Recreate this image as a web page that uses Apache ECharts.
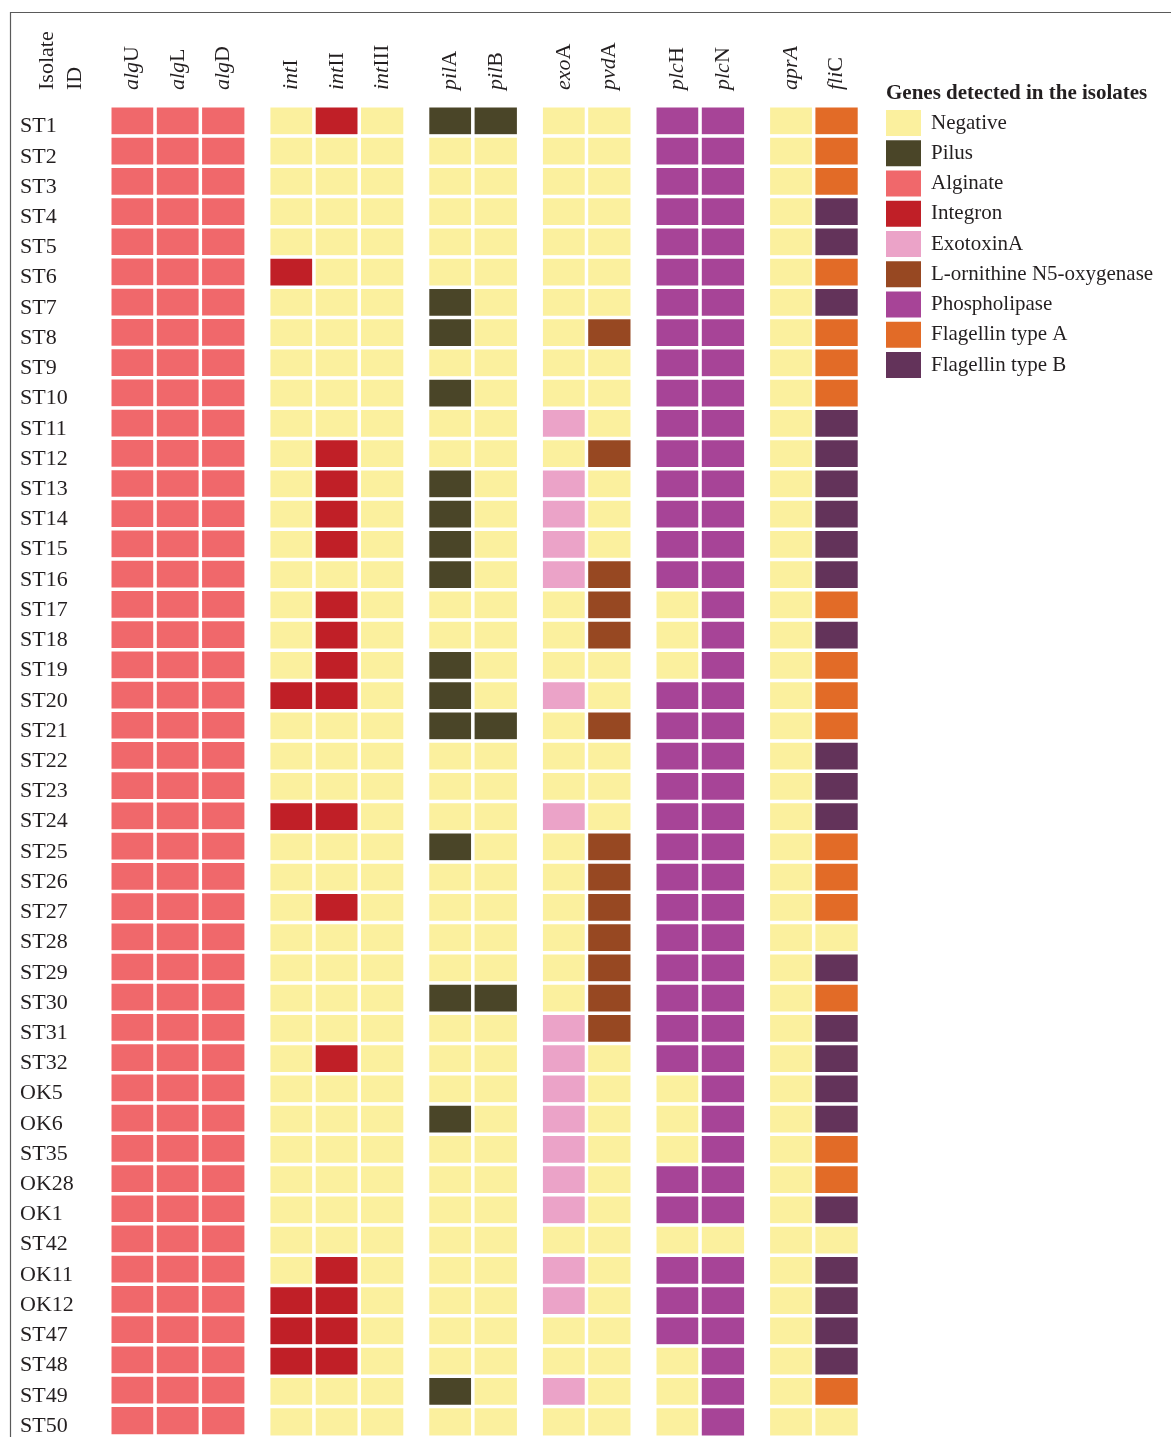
<!DOCTYPE html>
<html>
<head>
<meta charset="utf-8">
<title>Genes detected in the isolates</title>
<script src="https://cdn.jsdelivr.net/npm/echarts@6/dist/echarts.min.js"></script>
<style>
  html, body { margin: 0; padding: 0; background: #fff; }
  #chart { width: 1171px; height: 1437px; }
</style>
</head>
<body>
<div id="chart"></div>
<script>
/* global echarts */

const isolates = [
  "ST1", "ST2", "ST3", "ST4", "ST5", "ST6", "ST7", "ST8", "ST9", "ST10",
  "ST11", "ST12", "ST13", "ST14", "ST15", "ST16", "ST17", "ST18", "ST19", "ST20",
  "ST21", "ST22", "ST23", "ST24", "ST25", "ST26", "ST27", "ST28", "ST29", "ST30",
  "ST31", "ST32", "OK5", "OK6", "ST35", "OK28", "OK1", "ST42", "OK11", "OK12",
  "ST47", "ST48", "ST49", "ST50",
];

const geneGroups = [
  ["algU", "algL", "algD"],
  ["intI", "intII", "intIII"],
  ["pilA", "pilB"],
  ["exoA", "pvdA"],
  ["plcH", "plcN"],
  ["aprA", "fliC"],
];

// italic stem + upright suffix for the column headers
const geneLabels = {
  algU: ["alg", "U"], algL: ["alg", "L"], algD: ["alg", "D"],
  intI: ["int", "I"], intII: ["int", "II"], intIII: ["int", "III"],
  pilA: ["pil", "A"], pilB: ["pil", "B"],
  exoA: ["exo", "A"], pvdA: ["pvd", "A"],
  plcH: ["plc", "H"], plcN: ["plc", "N"],
  aprA: ["aprA", ""], fliC: ["fli", "C"],
};

const categoryNames = [
  "Negative", "Pilus", "Alginate", "Integron", "ExotoxinA",
  "L-ornithine N5-oxygenase", "Phospholipase", "Flagellin type A", "Flagellin type B",
];
const categoryColors = [
  "#FBF09E", "#4A4528", "#F0686B", "#C01F27", "#EBA3C8",
  "#974822", "#A74497", "#E26B27", "#63335A",
];

// 0 Negative, 1 Pilus, 2 Alginate, 3 Integron, 4 ExotoxinA,
// 5 L-ornithine N5-oxygenase, 6 Phospholipase, 7 Flagellin A, 8 Flagellin B
const algU = [2,2,2,2,2,2,2,2,2,2, 2,2,2,2,2,2,2,2,2,2, 2,2,2,2,2,2,2,2,2,2, 2,2,2,2,2,2,2,2,2,2, 2,2,2,2];
const algL = [2,2,2,2,2,2,2,2,2,2, 2,2,2,2,2,2,2,2,2,2, 2,2,2,2,2,2,2,2,2,2, 2,2,2,2,2,2,2,2,2,2, 2,2,2,2];
const algD = [2,2,2,2,2,2,2,2,2,2, 2,2,2,2,2,2,2,2,2,2, 2,2,2,2,2,2,2,2,2,2, 2,2,2,2,2,2,2,2,2,2, 2,2,2,2];
const intI = [0,0,0,0,0,3,0,0,0,0, 0,0,0,0,0,0,0,0,0,3, 0,0,0,3,0,0,0,0,0,0, 0,0,0,0,0,0,0,0,0,3, 3,3,0,0];
const intII = [3,0,0,0,0,0,0,0,0,0, 0,3,3,3,3,0,3,3,3,3, 0,0,0,3,0,0,3,0,0,0, 0,3,0,0,0,0,0,0,3,3, 3,3,0,0];
const intIII = [0,0,0,0,0,0,0,0,0,0, 0,0,0,0,0,0,0,0,0,0, 0,0,0,0,0,0,0,0,0,0, 0,0,0,0,0,0,0,0,0,0, 0,0,0,0];
const pilA = [1,0,0,0,0,0,1,1,0,1, 0,0,1,1,1,1,0,0,1,1, 1,0,0,0,1,0,0,0,0,1, 0,0,0,1,0,0,0,0,0,0, 0,0,1,0];
const pilB = [1,0,0,0,0,0,0,0,0,0, 0,0,0,0,0,0,0,0,0,0, 1,0,0,0,0,0,0,0,0,1, 0,0,0,0,0,0,0,0,0,0, 0,0,0,0];
const exoA = [0,0,0,0,0,0,0,0,0,0, 4,0,4,4,4,4,0,0,0,4, 0,0,0,4,0,0,0,0,0,0, 4,4,4,4,4,4,4,0,4,4, 0,0,4,0];
const pvdA = [0,0,0,0,0,0,0,5,0,0, 0,5,0,0,0,5,5,5,0,0, 5,0,0,0,5,5,5,5,5,5, 5,0,0,0,0,0,0,0,0,0, 0,0,0,0];
const plcH = [6,6,6,6,6,6,6,6,6,6, 6,6,6,6,6,6,0,0,0,6, 6,6,6,6,6,6,6,6,6,6, 6,6,0,0,0,6,6,0,6,6, 6,0,0,0];
const plcN = [6,6,6,6,6,6,6,6,6,6, 6,6,6,6,6,6,6,6,6,6, 6,6,6,6,6,6,6,6,6,6, 6,6,6,6,6,6,6,0,6,6, 6,6,6,6];
const aprA = [0,0,0,0,0,0,0,0,0,0, 0,0,0,0,0,0,0,0,0,0, 0,0,0,0,0,0,0,0,0,0, 0,0,0,0,0,0,0,0,0,0, 0,0,0,0];
const fliC = [7,7,7,8,8,7,8,7,7,7, 8,8,8,8,8,8,7,8,7,7, 7,8,8,8,7,7,7,0,8,7, 8,8,8,8,7,7,8,0,8,8, 8,8,7,0];

const geneValues = {
  algU, algL, algD, intI, intII, intIII, pilA, pilB,
  exoA, pvdA, plcH, plcN, aprA, fliC,
};

const FONT = "Liberation Serif";
const TEXT_COLOR = "#231f20";
const GRID_LEFT = 110;
const GRID_TOP = 106;
const COL_WIDTH = 45.3;
const ROW_HEIGHT = 30.25;
const GROUP_GAP = 23;

function geneLabel(gene) {
  const parts = geneLabels[gene];
  return parts[1] ? `{i|${parts[0]}}{u|${parts[1]}}` : `{i|${parts[0]}}`;
}

function buildOption() {
  const grids = [];
  const xAxes = [];
  const yAxes = [];
  const series = [];
  let left = GRID_LEFT;

  geneGroups.forEach((genes, g) => {
    const width = genes.length * COL_WIDTH;
    grids.push({
      left,
      top: GRID_TOP,
      width,
      height: isolates.length * ROW_HEIGHT,
      containLabel: false,
    });
    left += width + GROUP_GAP;

    xAxes.push({
      type: "category",
      gridIndex: g,
      position: "top",
      data: genes,
      axisLine: { show: false },
      axisTick: { show: false },
      splitLine: { show: false },
      axisLabel: {
        interval: 0,
        rotate: -90,
        margin: 16,
        formatter: geneLabel,
        rich: {
          i: { fontFamily: FONT, fontStyle: "italic", fontSize: 22, color: TEXT_COLOR },
          u: { fontFamily: FONT, fontSize: 22, color: TEXT_COLOR },
        },
      },
    });

    yAxes.push({
      type: "category",
      gridIndex: g,
      data: isolates,
      inverse: true,
      axisLine: { show: false },
      axisTick: { show: false },
      splitLine: { show: false },
      axisLabel: {
        show: g === 0,
        interval: 0,
        align: "left",
        margin: 90,
        formatter: (value) => `{a|${value}}`,
        rich: {
          a: {
            fontFamily: FONT,
            fontSize: 22,
            color: TEXT_COLOR,
            padding: [11, 0, 0, 0],
          },
        },
      },
    });

    const data = [];
    genes.forEach((gene, c) => {
      geneValues[gene].forEach((value, r) => {
        data.push([c, r, value]);
      });
    });
    series.push({
      type: "heatmap",
      xAxisIndex: g,
      yAxisIndex: g,
      data,
      itemStyle: { borderColor: "#ffffff", borderWidth: 3.5 },
      emphasis: { disabled: true },
      progressive: 0,
    });
  });

  return {
    animation: false,
    backgroundColor: "#ffffff",
    title: {
      text: "Genes detected in the isolates",
      left: 881,
      top: 78,
      textStyle: { fontFamily: FONT, fontWeight: "bold", fontSize: 21, color: TEXT_COLOR },
    },
    grid: grids,
    xAxis: xAxes,
    yAxis: yAxes,
    visualMap: {
      type: "piecewise",
      orient: "vertical",
      inverse: true,
      align: "left",
      left: 871,
      top: 95,
      itemWidth: 35,
      itemHeight: 26,
      itemGap: 4.25,
      itemSymbol: "rect",
      textGap: 10,
      selectedMode: false,
      hoverLink: false,
      dimension: 2,
      pieces: categoryNames.map((name, i) => ({ value: i, label: name, color: categoryColors[i] })),
      textStyle: { fontFamily: FONT, fontSize: 21, color: TEXT_COLOR },
    },
    graphic: [
      {
        type: "text",
        x: 61,
        y: 90,
        rotation: Math.PI / 2,
        style: {
          text: "Isolate\nID",
          fontFamily: FONT,
          fontSize: 22,
          lineHeight: 28,
          fill: TEXT_COLOR,
          align: "left",
          verticalAlign: "middle",
        },
      },
      {
        type: "polyline",
        shape: { points: [[1171, 12.5], [10.5, 12.5], [10.5, 1437]] },
        style: { stroke: "#5a5a5a", lineWidth: 1.2, fill: null },
      },
    ],
    series,
  };
}

const chart = echarts.init(document.getElementById("chart"), null, { renderer: "canvas" });
chart.setOption(buildOption());
</script>
</body>
</html>
